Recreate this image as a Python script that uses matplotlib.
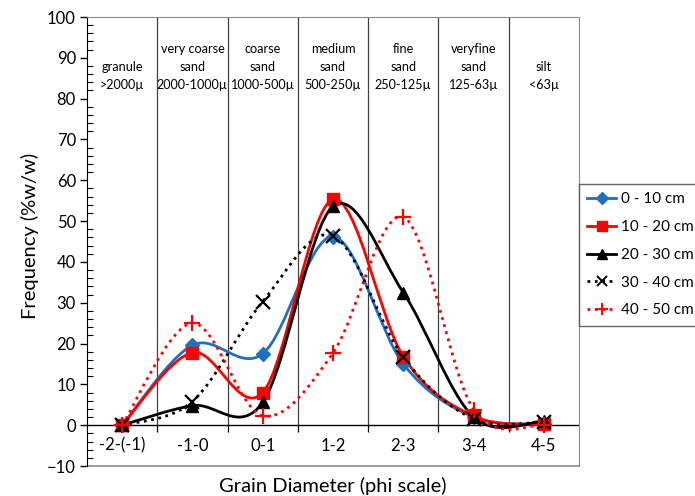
import matplotlib.pyplot as plt
import numpy as np
from matplotlib.path import Path
from matplotlib.patches import PathPatch
from matplotlib.lines import Line2D

plt.rcParams['font.family'] = ['Lato', 'DejaVu Sans']

categories = ['-2-(-1)', '-1-0', '0-1', '1-2', '2-3', '3-4', '4-5']
class_labels = ['granule\n>2000µ', 'very coarse\nsand\n2000-1000µ', 'coarse\nsand\n1000-500µ',
                'medium\nsand\n500-250µ', 'fine\nsand\n250-125µ', 'veryfine\nsand\n125-63µ', 'silt\n<63µ']

depth_0_10 = [0, 19.6, 17.5, 46.2, 15.0, 2.0, 0.3]
depth_10_20 = [0, 17.8, 8.0, 55.3, 16.8, 2.2, 0.2]
depth_20_30 = [0, 4.8, 5.6, 53.6, 32.5, 2.0, 1.0]
depth_30_40 = [0, 5.8, 30.3, 46.4, 16.6, 1.5, 0.8]
depth_40_50 = [0, 25.0, 2.3, 17.7, 51.0, 3.8, 0.1]

series = [
    ('0 - 10 cm', depth_0_10, '#1f70c1', 'D', '-', 7.5),
    ('10 - 20 cm', depth_10_20, '#ff0000', 's', '-', 9),
    ('20 - 30 cm', depth_20_30, 'black', '^', '-', 9),
    ('30 - 40 cm', depth_30_40, 'black', 'x', ':', 10),
    ('40 - 50 cm', depth_40_50, '#ff0000', '+', ':', 12),
]


def smooth_path(x, y):
    # excel-like smoothed line: bezier segments with catmull-rom control points
    pts = np.column_stack([x, y]).astype(float)
    ext = np.vstack([pts[0], pts, pts[-1]])
    verts = [pts[0]]
    codes = [Path.MOVETO]
    for i in range(len(pts) - 1):
        p0, p1, p2, p3 = ext[i], ext[i + 1], ext[i + 2], ext[i + 3]
        verts += [p1 + (p2 - p0) / 6, p2 - (p3 - p1) / 6, p2]
        codes += [Path.CURVE4] * 3
    return Path(verts, codes)


fig = plt.figure(figsize=(6.95, 4.96), dpi=100)
ax = fig.add_axes([87 / 695, 1 - 466 / 496, 492 / 695, 449 / 496])

x = np.arange(len(categories))
handles = []
for label, vals, color, marker, ls, ms in series:
    ax.add_patch(PathPatch(smooth_path(x, vals), fill=False, edgecolor=color, lw=2.0,
                           linestyle=ls, zorder=3))
    ax.plot(x, vals, linestyle='none', marker=marker, color=color, markersize=ms,
            markeredgewidth=1.6 if marker in 'x+' else 1, zorder=4)
    handles.append(Line2D([], [], color=color, lw=2.0, linestyle=ls, marker=marker,
                          markersize=ms * 0.75, markeredgewidth=1.4 if marker in 'x+' else 1))

# class separators and names
for b in np.arange(0.5, len(categories) - 1):
    ax.plot([b, b], [0, 100], color='#404040', lw=0.9, zorder=1)
for i, txt in enumerate(class_labels):
    ax.text(i, 81.8, txt, ha='center', va='bottom', fontsize=9.1, linespacing=1.6)

ax.axhline(0, color='black', lw=1.0, zorder=2)
ax.set_xlim(-0.5, len(categories) - 0.5)
ax.set_ylim(-10, 100)

# y axis
ax.set_yticks(np.arange(-10, 101, 10))
ax.set_yticks(np.arange(-10, 101, 2), minor=True)
ax.tick_params(axis='y', which='major', direction='out', length=5, width=1, labelsize=12, pad=3)
ax.tick_params(axis='y', which='minor', direction='in', length=4, width=0.8)

# x axis sits on the zero line
ax.spines['bottom'].set_position(('data', 0))
ax.spines['bottom'].set_visible(False)
ax.set_xticks(x)
ax.set_xticklabels(categories)
ax.set_xticks(np.arange(0.5, len(categories) - 1), minor=True)
ax.tick_params(axis='x', which='major', length=0, labelsize=12, pad=9)
ax.tick_params(axis='x', which='minor', direction='out', length=5, width=0.9)
ax.plot([0, 1], [0, 0], transform=ax.transAxes, color='#8a8a8a', lw=1.2, clip_on=False)
for s in ['top', 'right']:
    ax.spines[s].set_color('#8a8a8a')
ax.spines['left'].set_color('black')

fig.text(0.5 * (87 + 579) / 695, 1 - 486 / 496, 'Grain Diameter (phi scale)', ha='center',
         va='center', fontsize=14.5)
fig.text(30 / 695, 1 - 236 / 496, 'Frequency (%w/w)', rotation=90, ha='center',
         va='center', fontsize=14.5)

leg = fig.legend(handles=handles, labels=[s[0] for s in series], loc='upper left',
                 bbox_to_anchor=(579 / 695, 1 - 184 / 496), fontsize=11, frameon=True,
                 fancybox=False, edgecolor='#404040', handlelength=1.9, handletextpad=0.3,
                 labelspacing=0.9, borderpad=0.55, borderaxespad=0)
leg.get_frame().set_linewidth(1.0)

fig.savefig('out.png', dpi=100)
